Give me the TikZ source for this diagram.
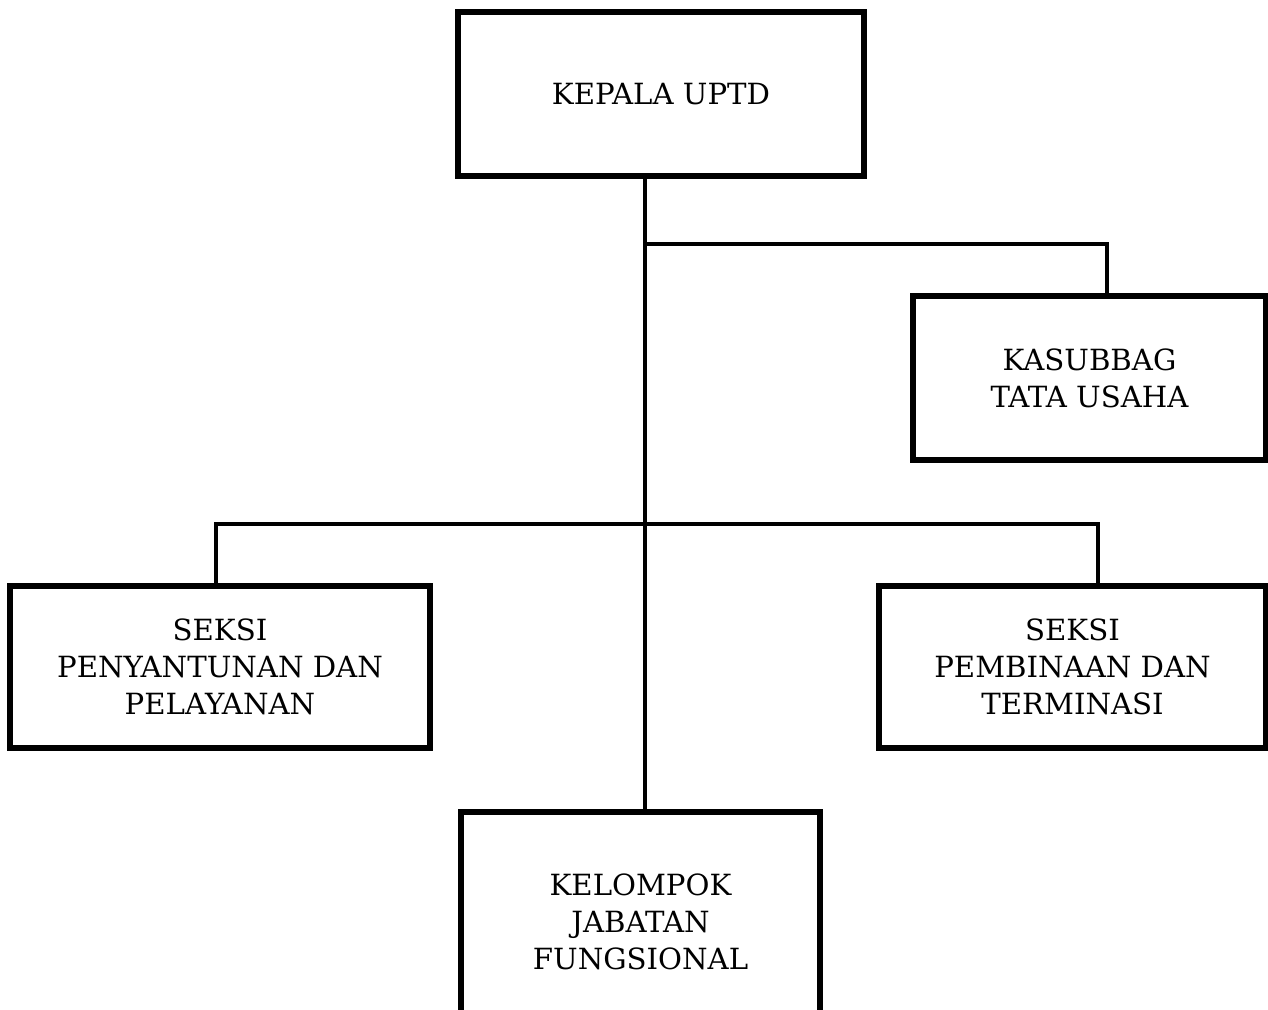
\documentclass[tikz,border=0pt]{standalone}
\usepackage{fontspec}
\setmainfont{DejaVu Serif}
\usepackage{tikz}
\usetikzlibrary{positioning,calc}
\tikzset{
  unit/.style = {draw, line width=2.8pt, align=center, inner sep=0pt,
                 font=\fontsize{14.6}{18.5}\selectfont, minimum height=82pt},
  link/.style = {line width=2pt},
}

\begin{document}
\begin{tikzpicture}[x=0.5pt, y=-0.5pt]
  \useasboundingbox (0,0) rectangle (1268,1009);
  \clip (0,0) rectangle (1268,1009);
  % boxes
  \node[unit, minimum width=203pt] (kepala) at (661,94) {KEPALA UPTD};
  \node[unit, minimum width=176.5pt] (tu) at (1089.5,378) {KASUBBAG\\TATA USAHA};
  \node[unit, minimum width=210pt, minimum height=81pt] (seksiA) at (220,667)
    {SEKSI\\PENYANTUNAN DAN\\PELAYANAN};
  \node[unit, minimum width=193.5pt, minimum height=81pt] (seksiB) at (1072.5,667)
    {SEKSI\\PEMBINAAN DAN\\TERMINASI};
  \node[unit, minimum width=179.5pt, minimum height=110pt] (kjf) at (640.5,922)
    {KELOMPOK\\JABATAN\\FUNGSIONAL};
  % lines
  \coordinate (spine) at (645,244);
  \coordinate (bar) at (645,524);
  \draw[link] (kepala.south -| spine) -- (kjf.north -| spine);
  \draw[link] (spine) -| ([xshift=8.75pt]tu.north);
  \draw[link] ([xshift=-2pt]seksiA.north) |- (bar) -| ([xshift=12.75pt]seksiB.north);
\end{tikzpicture}
\end{document}
